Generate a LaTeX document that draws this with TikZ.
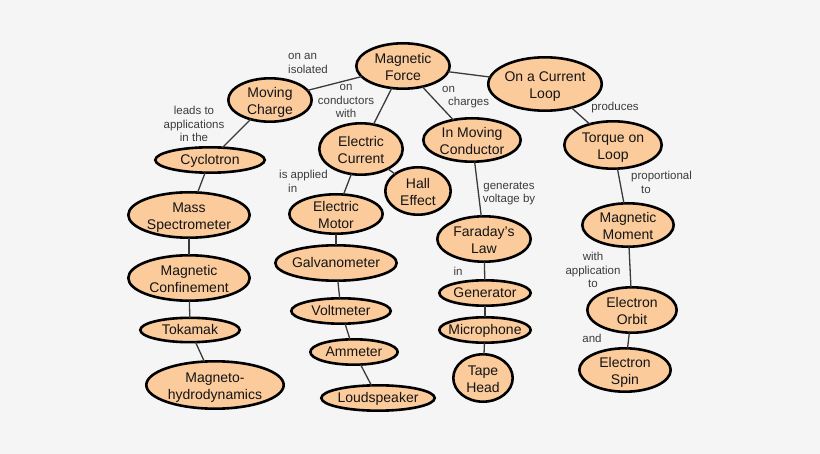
\documentclass[tikz,border=0pt]{standalone}
\usepackage{fontspec}
\setmainfont{Liberation Sans}
\usetikzlibrary{shapes.geometric}
\definecolor{peach}{RGB}{251,203,155}
\definecolor{bg}{RGB}{245,245,245}
\definecolor{edgecol}{RGB}{58,58,58}
\definecolor{labcol}{RGB}{60,60,60}
\newcommand\ntx[1]{\makebox[0pt]{\raisebox{0pt}[0pt][0pt]{\raisebox{\dimexpr-0.25em-2.5pt\relax}{\begin{tabular}{@{}c@{}}#1\end{tabular}}}}}
\newcommand\nto[1]{\makebox[0pt]{\raisebox{0pt}[0pt][0pt]{\raisebox{\dimexpr-0.25em-1pt\relax}{\begin{tabular}{@{}c@{}}#1\end{tabular}}}}}
\tikzset{
  concept/.style n args={2}{ellipse, draw=black, line width=2.6pt, fill=peach,
    inner sep=0pt, outer sep=0pt, text=black!92,
    font=\fontsize{14}{16.7}\selectfont,
    minimum width={2*#1pt-2.6pt}, minimum height={2*#2pt-2.6pt}},
  edge/.style={draw=edgecol, line width=1.3pt},
  lab/.style={inner sep=0pt, text=labcol, font=\fontsize{11.5}{13.7}\selectfont},
}
\begin{document}
\begin{tikzpicture}[x=1pt,y=-1pt]
\fill[bg] (0,0) rectangle (820,454);
\useasboundingbox (0,0) rectangle (820,454);
% concepts
\node[concept={48}{24}] (mf) at (403,66) {\ntx{Magnetic\\Force}};
\node[concept={43}{23}] (mc) at (270,100) {\ntx{Moving\\Charge}};
\node[concept={56}{14}] (cy) at (210,160) {\nto{Cyclotron}};
\node[concept={43}{27}] (ec) at (361,149) {\ntx{Electric\\Current}};
\node[concept={58}{28}] (cl) at (545,84) {\ntx{On a Current\\Loop}};
\node[concept={50}{23}] (imc) at (472,140) {\ntx{In Moving\\Conductor}};
\node[concept={50}{25}] (tl) at (613,145) {\ntx{Torque on\\Loop}};
\node[concept={34}{25}] (he) at (418,191) {\ntx{Hall\\Effect}};
\node[concept={62}{24}] (ms) at (189,215) {\ntx{Mass\\Spectrometer}};
\node[concept={62}{24}] (mcf) at (189,278) {\ntx{Magnetic\\Confinement}};
\node[concept={51}{13.5}] (tk) at (190,330) {\nto{Tokamak}};
\node[concept={70}{25}] (mhd) at (215,385) {\ntx{Magneto-\\hydrodynamics}};
\node[concept={48}{21}] (em) at (336,214) {\ntx{Electric\\Motor}};
\node[concept={62}{19}] (gv) at (336,263) {\nto{Galvanometer}};
\node[concept={51}{14}] (vm) at (341,311) {\nto{Voltmeter}};
\node[concept={45}{14}] (am) at (354,352) {\nto{Ammeter}};
\node[concept={58}{14}] (ls) at (378,398) {\nto{Loudspeaker}};
\node[concept={48}{24}] (fl) at (484,239) {\ntx{Faraday's\\Law}};
\node[concept={47}{14}] (gen) at (485,293) {\nto{Generator}};
\node[concept={47}{14}] (mic) at (485,330) {\nto{Microphone}};
\node[concept={31}{25}] (th) at (483,378) {\ntx{Tape\\Head}};
\node[concept={47}{23}] (mm) at (628,225) {\ntx{Magnetic\\Moment}};
\node[concept={46}{24}] (eo) at (632,310) {\ntx{Electron\\Orbit}};
\node[concept={47}{23}] (es) at (625,370) {\ntx{Electron\\Spin}};
% connectors
\draw[edge] (mf) -- (mc);
\draw[edge] (mf) -- (ec);
\draw[edge] (mf) -- (imc);
\draw[edge] (mf) -- (cl);
\draw[edge] (mc) -- (cy);
\draw[edge] (cy) -- (ms);
\draw[edge] (ms) -- (mcf);
\draw[edge] (mcf) -- (tk);
\draw[edge] (tk) -- (mhd);
\draw[edge] (ec) -- (em);
\draw[edge] (ec) -- (he);
\draw[edge] (em) -- (gv);
\draw[edge] (gv) -- (vm);
\draw[edge] (vm) -- (am);
\draw[edge] (am) -- (ls);
\draw[edge] (imc) -- (fl);
\draw[edge] (fl) -- (gen);
\draw[edge] (gen) -- (mic);
\draw[edge] (mic) -- (th);
\draw[edge] (cl) -- (tl);
\draw[edge] (tl) -- (mm);
\draw[edge] (mm) -- (eo);
\draw[edge] (eo) -- (es);
% linking phrases
\node[lab, align=left, anchor=west] (l1) at (288,63.5) {on an\\isolated};
\node[lab, align=center] (l2) at (346,101) {on\\conductors\\with};
\node[lab, align=center] (l3) at (194,124) {leads to\\applications\\in the};
\node[lab, align=left, anchor=west] (l4) at (442,97) {on\\\hspace*{6pt}charges};
\node[lab] (l5) at (615,108) {produces};
\node[lab, align=center] (l6) at (509,193.5) {generates\\voltage by};
\node[lab, align=left, anchor=west] (l7) at (631,182.5) {proportional\\\hspace*{10pt}to};
\node[lab, align=left, anchor=west] (l8) at (279,181.5) {is applied\\\hspace*{9pt}in};
\node[lab] (l9) at (458,271) {in};
\node[lab, align=center] (l10) at (593,270) {with\\application\\to};
\node[lab] (l11) at (592,338) {and};
\end{tikzpicture}
\end{document}
